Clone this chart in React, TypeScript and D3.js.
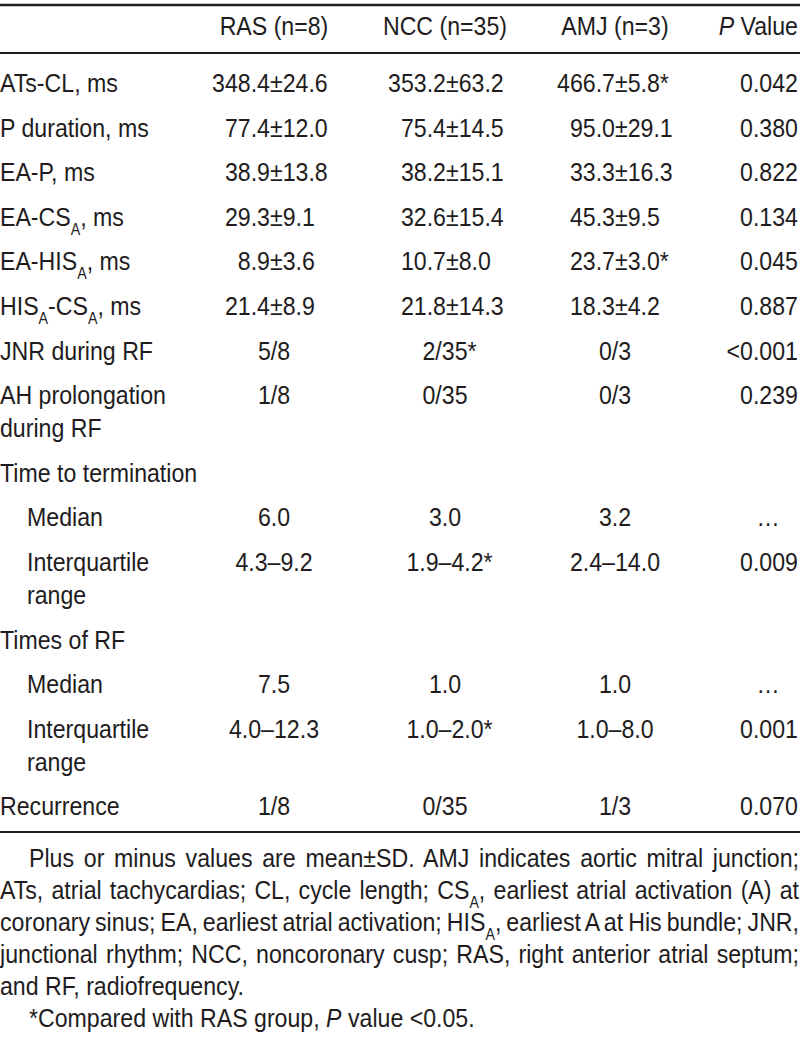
import React, { useEffect, useRef } from 'react';
import * as d3 from 'd3';

const headers = ['RAS (n=8)', 'NCC (n=35)', 'AMJ (n=3)'];
const pHeader = '^{P} Value';

const rowLabels = [
  'ATs-CL, ms',
  'P duration, ms',
  'EA-P, ms',
  'EA-CS_{A}, ms',
  'EA-HIS_{A}, ms',
  'HIS_{A}-CS_{A}, ms',
  'JNR during RF',
  'AH prolongation|during RF',
  'Time to termination',
  'Median',
  'Interquartile|range',
  'Times of RF',
  'Median',
  'Interquartile|range',
  'Recurrence',
];
const indented = [false, false, false, false, false, false, false, false, false, true, true, false, true, true, false];

const rasValues = ['348.4±24.6', '77.4±12.0', '38.9±13.8', '29.3±9.1', '8.9±3.6', '21.4±8.9', '5/8', '1/8', '', '6.0', '4.3–9.2', '', '7.5', '4.0–12.3', '1/8'];
const nccValues = ['353.2±63.2', '75.4±14.5', '38.2±15.1', '32.6±15.4', '10.7±8.0', '21.8±14.3', '2/35*', '0/35', '', '3.0', '1.9–4.2*', '', '1.0', '1.0–2.0*', '0/35'];
const amjValues = ['466.7±5.8*', '95.0±29.1', '33.3±16.3', '45.3±9.5', '23.7±3.0*', '18.3±4.2', '0/3', '0/3', '', '3.2', '2.4–14.0', '', '1.0', '1.0–8.0', '1/3'];
const pValues = ['0.042', '0.380', '0.822', '0.134', '0.045', '0.887', '<0.001', '0.239', '', '…', '0.009', '', '…', '0.001', '0.070'];

const footLines = [
  'Plus or minus values are mean±SD. AMJ indicates aortic mitral junction;',
  'ATs, atrial tachycardias; CL, cycle length; CS_{A}, earliest atrial activation (A) at',
  'coronary sinus; EA, earliest atrial activation; HIS_{A}, earliest A at His bundle; JNR,',
  'junctional rhythm; NCC, noncoronary cusp; RAS, right anterior atrial septum;',
  'and RF, radiofrequency.',
  '*Compared with RAS group, ^{P} value <0.05.',
];
const footIndent = [true, false, false, false, false, true];
const footJustify = [true, true, true, true, false, false];

const FONT = "'Liberation Sans', Arial, Helvetica, sans-serif";
const INK = '#1e1c1d';
const FS = 26;
const SX = 0.89;
const SUB_FS = 16;
const SUB_DY = 9;

function addRich(sel: any, str: string) {
  const re = /(_\{[^}]*\}|\^\{[^}]*\})/g;
  const parts = str.split(re).filter((p) => p.length > 0);
  let shifted = 0;
  parts.forEach((p) => {
    if (p.startsWith('_{')) {
      sel.append('tspan').attr('font-size', SUB_FS).attr('dy', SUB_DY - shifted).text(p.slice(2, -1));
      shifted = SUB_DY;
    } else if (p.startsWith('^{')) {
      const t = sel.append('tspan').attr('font-style', 'italic').text(p.slice(2, -1));
      if (shifted) t.attr('dy', -shifted);
      shifted = 0;
    } else {
      const t = sel.append('tspan').text(p);
      if (shifted) t.attr('dy', -shifted);
      shifted = 0;
    }
  });
}

export default function App() {
  const ref = useRef<SVGSVGElement>(null);

  useEffect(() => {
    const svg = d3.select(ref.current);
    svg.selectAll('*').remove();
    const W = 800;

    // rules
    svg.append('line').attr('x1', 0).attr('x2', W).attr('y1', 5).attr('y2', 5).attr('stroke', INK).attr('stroke-width', 2.5);
    svg.append('line').attr('x1', 0).attr('x2', W).attr('y1', 53).attr('y2', 53).attr('stroke', INK).attr('stroke-width', 2);
    svg.append('line').attr('x1', 0).attr('x2', W).attr('y1', 832).attr('y2', 832).attr('stroke', INK).attr('stroke-width', 2);

    // condensed text group: x coordinates are divided by SX
    const g = svg
      .append('g')
      .attr('transform', `scale(${SX},1)`)
      .attr('font-family', FONT)
      .attr('font-size', FS)
      .attr('fill', INK);
    const X = (px: number) => px / SX;

    const colCenter = [274, 445, 615];
    const pmX = [270, 446, 615];
    const pRight = 798;

    // header
    headers.forEach((h, i) => {
      g.append('text').attr('x', X(colCenter[i])).attr('y', 35).attr('text-anchor', 'middle').text(h);
    });
    const ph = g.append('text').attr('x', X(pRight)).attr('y', 35).attr('text-anchor', 'end');
    addRich(ph, pHeader);

    // row positions
    const rowStep = 44.6;
    const lineStep = 33;
    const ys: number[] = [];
    let y = 92;
    rowLabels.forEach((l) => {
      ys.push(y);
      const n = l.split('|').length;
      y += rowStep + (n - 1) * lineStep;
    });

    const cols = [rasValues, nccValues, amjValues];

    rowLabels.forEach((label, r) => {
      const x0 = indented[r] ? 27 : 0;
      label.split('|').forEach((ln, k) => {
        const t = g.append('text').attr('x', X(x0)).attr('y', ys[r] + k * lineStep);
        addRich(t, ln);
      });

      cols.forEach((vals, c) => {
        const v = vals[r];
        if (!v) return;
        if (v.includes('±')) {
          const [left, right] = v.split('±');
          g.append('text').attr('x', X(pmX[c])).attr('y', ys[r]).attr('text-anchor', 'end').text(left);
          g.append('text').attr('x', X(pmX[c])).attr('y', ys[r]).attr('text-anchor', 'start').text('±' + right);
        } else {
          const star = v.endsWith('*');
          const main = star ? v.slice(0, -1) : v;
          const t = g.append('text').attr('x', X(colCenter[c])).attr('y', ys[r]).attr('text-anchor', 'middle').text(main);
          if (star) {
            const w = (t.node() as SVGTextElement).getComputedTextLength();
            g.append('text').attr('x', X(colCenter[c]) + w / 2).attr('y', ys[r]).text('*');
          }
        }
      });

      const pv = pValues[r];
      if (pv) {
        if (pv === '…') {
          g.append('text').attr('x', X(768)).attr('y', ys[r]).attr('text-anchor', 'middle').text(pv);
        } else {
          g.append('text').attr('x', X(pRight)).attr('y', ys[r]).attr('text-anchor', 'end').text(pv);
        }
      }
    });

    // footnotes
    const fy0 = 867;
    const fStep = 32;
    footLines.forEach((ln, i) => {
      const x0 = footIndent[i] ? 29 : 0;
      const t = g.append('text').attr('x', X(x0)).attr('y', fy0 + i * fStep);
      addRich(t, ln);
      if (footJustify[i]) {
        const natural = (t.node() as SVGTextElement).getComputedTextLength();
        const spaces = (ln.match(/ /g) || []).length;
        const target = X(W - 1 - x0);
        const ws = (target - natural) / spaces;
        t.attr('word-spacing', ws);
      }
    });
  }, []);

  return (
    <svg
      ref={ref}
      width={800}
      height={1044}
      style={{ position: 'absolute', left: 0, top: 0, background: '#fff' }}
    />
  );
}
